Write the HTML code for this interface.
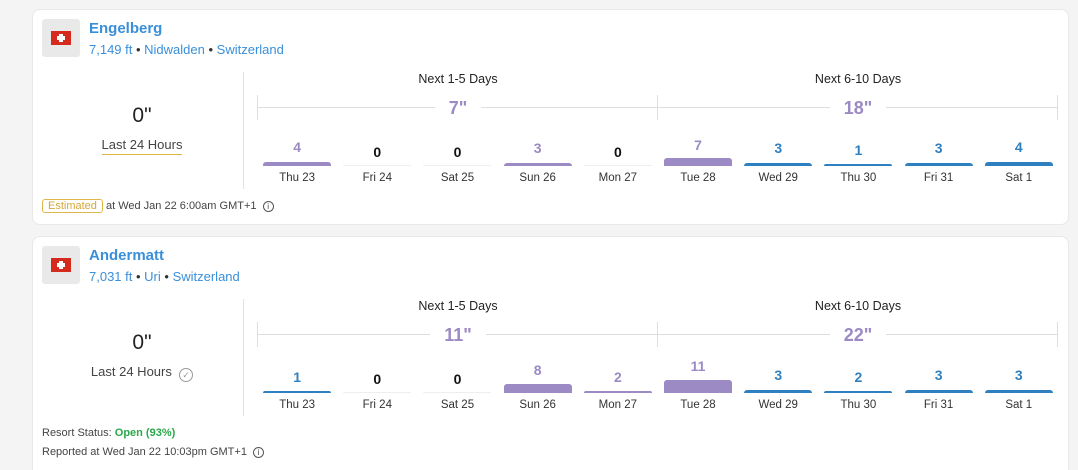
<!DOCTYPE html>
<html style="overflow:hidden;height:470px"><head><meta charset="utf-8"><style>
body{margin:0;width:1078px;height:470px;background:#f4f4f4;font-family:"Liberation Sans",sans-serif;position:relative;overflow:hidden}
.card{position:absolute;left:32px;width:1035px;background:#fff;border:1px solid #e8e8e8;border-radius:8px}
.a{position:absolute}
.flag{position:absolute;left:9px;top:9px;width:38px;height:38px;background:#e9e9e9;border-radius:3px}
.flag i{position:absolute;left:9px;top:12px;width:20px;height:14px;background:#d52b1e}
.flag i:before{content:"";position:absolute;left:8px;top:3px;width:4px;height:8px;background:#fff}
.flag i:after{content:"";position:absolute;left:6px;top:5px;width:8px;height:4px;background:#fff}
.title{left:56px;top:10px;font-size:15px;font-weight:bold;color:#3a8fd9}
.sub{left:56px;top:32px;font-size:13px;color:#3a8fd9}
.sub b{color:#333;font-weight:normal}
.big{width:200px;left:9px;text-align:center;font-size:21px;color:#222}
.l24{width:200px;left:9px;text-align:center;font-size:13px;color:#444}
.vsep{left:210px;width:1px;background:#e2e2e2}
.hd{font-size:12.5px;color:#222;width:400px;text-align:center}
.hl{height:1px;background:#dedede}
.tk{width:1px;height:25px;background:#dedede}
.tot{width:400px;text-align:center;font-size:18px;font-weight:bold;color:#9b8ac4}
.tot span{background:#fff;padding:0 14px}
.cols{position:absolute;left:224px;display:flex;width:802px}
.col{width:80.2px;position:relative}
.col .v{position:absolute;left:0;right:0;text-align:center;font-size:14px;font-weight:bold;line-height:16px}
.col .b{position:absolute;left:6px;width:68px;border-radius:3px 3px 0 0}
.col .d{position:absolute;left:0;right:0;text-align:center;font-size:11.5px;color:#333}
.p{color:#9b8ac4}.p2{background:#9b8ac4}.bl{color:#2f80c0}.bl2{background:#2f80c0}.z{color:#111}.z2{background:#eee}
.foot{font-size:11px;color:#444}
</style></head><body>

<div class="card" style="top:9px;height:214px">
<div class="flag"><i></i></div>
<div class="a title">Engelberg</div>
<div class="a sub">7,149 ft <b>•</b> Nidwalden <b>•</b> Switzerland</div>
<div class="a big" style="top:94px">0"</div>
<div class="a l24" style="top:127px"><span style="border-bottom:1.5px solid #e0b84a;padding-bottom:2px">Last 24 Hours</span></div>
<div class="a vsep" style="top:62px;height:117px"></div>
<div class="a hd" style="left:225px;top:62px">Next 1-5 Days</div>
<div class="a hd" style="left:625px;top:62px">Next 6-10 Days</div>
<div class="a hl" style="left:224px;top:97px;width:801px"></div>
<div class="a tk" style="left:224px;top:85px"></div>
<div class="a tk" style="left:624px;top:85px"></div>
<div class="a tk" style="left:1024px;top:85px"></div>
<div class="a tot" style="left:225px;top:88px"><span>7"</span></div>
<div class="a tot" style="left:625px;top:88px"><span>18"</span></div>
<div class="cols" style="top:0">
<div class="col"><div class="v p" style="top:129px">4</div><div class="b p2" style="top:152px;height:4px"></div><div class="d" style="top:162px">Thu 23</div></div>
<div class="col"><div class="v z" style="top:134px">0</div><div class="b z2" style="top:155px;height:1px"></div><div class="d" style="top:162px">Fri 24</div></div>
<div class="col"><div class="v z" style="top:134px">0</div><div class="b z2" style="top:155px;height:1px"></div><div class="d" style="top:162px">Sat 25</div></div>
<div class="col"><div class="v p" style="top:130px">3</div><div class="b p2" style="top:153px;height:3px"></div><div class="d" style="top:162px">Sun 26</div></div>
<div class="col"><div class="v z" style="top:134px">0</div><div class="b z2" style="top:155px;height:1px"></div><div class="d" style="top:162px">Mon 27</div></div>
<div class="col"><div class="v p" style="top:127px">7</div><div class="b p2" style="top:148px;height:8px"></div><div class="d" style="top:162px">Tue 28</div></div>
<div class="col"><div class="v bl" style="top:130px">3</div><div class="b bl2" style="top:153px;height:3px"></div><div class="d" style="top:162px">Wed 29</div></div>
<div class="col"><div class="v bl" style="top:132px">1</div><div class="b bl2" style="top:154px;height:2px"></div><div class="d" style="top:162px">Thu 30</div></div>
<div class="col"><div class="v bl" style="top:130px">3</div><div class="b bl2" style="top:153px;height:3px"></div><div class="d" style="top:162px">Fri 31</div></div>
<div class="col"><div class="v bl" style="top:129px">4</div><div class="b bl2" style="top:152px;height:4px"></div><div class="d" style="top:162px">Sat 1</div></div>
</div>
<div class="a foot" style="left:9px;top:190px"><span style="border:1px solid #e0b84a;color:#d4a73a;border-radius:3px;padding:0 5px">Estimated</span> at Wed Jan 22 6:00am GMT+1 &nbsp;<span style="display:inline-block;width:9px;height:9px;border:1px solid #555;border-radius:50%;font-size:8px;line-height:9px;text-align:center">i</span></div>
</div>

<div class="card" style="top:236px;height:250px">
<div class="flag"><i></i></div>
<div class="a title">Andermatt</div>
<div class="a sub">7,031 ft <b>•</b> Uri <b>•</b> Switzerland</div>
<div class="a big" style="top:94px">0"</div>
<div class="a l24" style="top:127px">Last 24 Hours &nbsp;<span style="display:inline-block;width:12px;height:12px;border:1px solid #999;border-radius:50%;font-size:9px;line-height:12px;color:#999;vertical-align:-2px">✓</span></div>
<div class="a vsep" style="top:62px;height:117px"></div>
<div class="a hd" style="left:225px;top:62px">Next 1-5 Days</div>
<div class="a hd" style="left:625px;top:62px">Next 6-10 Days</div>
<div class="a hl" style="left:224px;top:97px;width:801px"></div>
<div class="a tk" style="left:224px;top:85px"></div>
<div class="a tk" style="left:624px;top:85px"></div>
<div class="a tk" style="left:1024px;top:85px"></div>
<div class="a tot" style="left:225px;top:88px"><span>11"</span></div>
<div class="a tot" style="left:625px;top:88px"><span>22"</span></div>
<div class="cols" style="top:0">
<div class="col"><div class="v bl" style="top:132px">1</div><div class="b bl2" style="top:154px;height:2px"></div><div class="d" style="top:162px">Thu 23</div></div>
<div class="col"><div class="v z" style="top:134px">0</div><div class="b z2" style="top:155px;height:1px"></div><div class="d" style="top:162px">Fri 24</div></div>
<div class="col"><div class="v z" style="top:134px">0</div><div class="b z2" style="top:155px;height:1px"></div><div class="d" style="top:162px">Sat 25</div></div>
<div class="col"><div class="v p" style="top:125px">8</div><div class="b p2" style="top:147px;height:9px"></div><div class="d" style="top:162px">Sun 26</div></div>
<div class="col"><div class="v p" style="top:132px">2</div><div class="b p2" style="top:154px;height:2px"></div><div class="d" style="top:162px">Mon 27</div></div>
<div class="col"><div class="v p" style="top:121px">11</div><div class="b p2" style="top:143px;height:13px"></div><div class="d" style="top:162px">Tue 28</div></div>
<div class="col"><div class="v bl" style="top:130px">3</div><div class="b bl2" style="top:153px;height:3px"></div><div class="d" style="top:162px">Wed 29</div></div>
<div class="col"><div class="v bl" style="top:132px">2</div><div class="b bl2" style="top:154px;height:2px"></div><div class="d" style="top:162px">Thu 30</div></div>
<div class="col"><div class="v bl" style="top:130px">3</div><div class="b bl2" style="top:153px;height:3px"></div><div class="d" style="top:162px">Fri 31</div></div>
<div class="col"><div class="v bl" style="top:130px">3</div><div class="b bl2" style="top:153px;height:3px"></div><div class="d" style="top:162px">Sat 1</div></div>
</div>
<div class="a foot" style="left:9px;top:190px">Resort Status: <b style="color:#2aa84a">Open (93%)</b></div>
<div class="a foot" style="left:9px;top:209px">Reported at Wed Jan 22 10:03pm GMT+1 &nbsp;<span style="display:inline-block;width:9px;height:9px;border:1px solid #555;border-radius:50%;font-size:8px;line-height:9px;text-align:center">i</span></div>
</div>
</body></html>
